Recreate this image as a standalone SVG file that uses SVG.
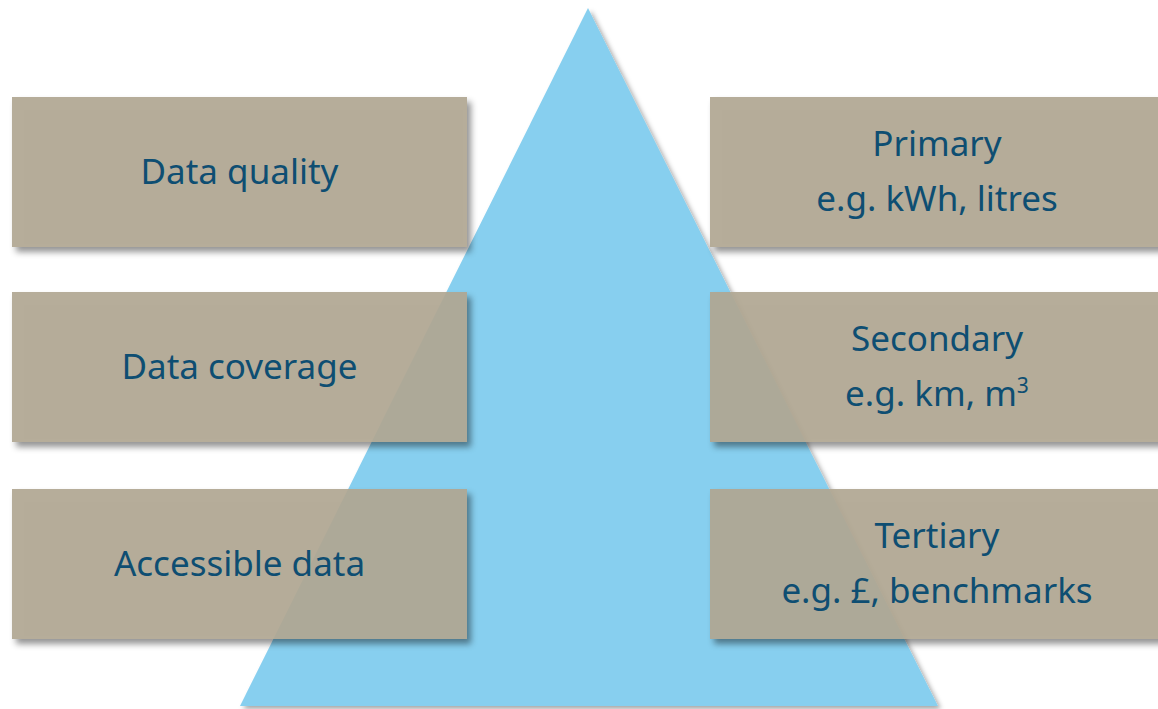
<svg xmlns="http://www.w3.org/2000/svg" width="1158" height="709" viewBox="0 0 1158 709">
  <defs>
    <!-- soft shadow cast only outside the shape, so translucent boxes stay clean -->
    <filter id="shadow" x="-10%" y="-10%" width="130%" height="130%">
      <feGaussianBlur in="SourceAlpha" stdDeviation="3"/>
      <feOffset dx="4" dy="5" result="blur"/>
      <feFlood flood-color="#000" flood-opacity="0.45"/>
      <feComposite in2="blur" operator="in"/>
      <feComposite in2="SourceAlpha" operator="out" result="cast"/>
      <feMerge>
        <feMergeNode in="cast"/>
        <feMergeNode in="SourceGraphic"/>
      </feMerge>
    </filter>
    <filter id="tri-shadow" x="-10%" y="-10%" width="130%" height="130%">
      <feDropShadow dx="3" dy="3" stdDeviation="2.5" flood-color="#000" flood-opacity="0.35"/>
    </filter>
  </defs>
  <style>
    .box { fill: #b0a792; fill-opacity: 0.93; }
    .label { font-family: "Noto Sans", "DejaVu Sans", sans-serif; font-size: 35px; fill: #0e4e72; text-anchor: middle; }
    .sup { font-size: 21px; }
  </style>
  <rect width="1158" height="709" fill="#ffffff"/>

  <!-- pyramid -->
  <g id="pyramid">
    <polygon points="588,8 938,706 240,706" fill="#87cfef" filter="url(#tri-shadow)"/>
  </g>

  <!-- left column -->
  <g id="data-quality">
    <rect class="box" x="12" y="97" width="455" height="150" filter="url(#shadow)"/>
    <text class="label" x="239.5" y="184">Data quality</text>
  </g>
  <g id="data-coverage">
    <rect class="box" x="12" y="292" width="455" height="150" filter="url(#shadow)"/>
    <text class="label" x="239.5" y="379">Data coverage</text>
  </g>
  <g id="accessible-data">
    <rect class="box" x="12" y="489" width="455" height="150" filter="url(#shadow)"/>
    <text class="label" x="239.5" y="576">Accessible data</text>
  </g>

  <!-- right column -->
  <g id="primary">
    <rect class="box" x="710" y="97" width="460" height="150" filter="url(#shadow)"/>
    <text class="label" x="937" y="156">Primary</text>
    <text class="label" x="937" y="211">e.g. kWh, litres</text>
  </g>
  <g id="secondary">
    <rect class="box" x="710" y="292" width="460" height="150" filter="url(#shadow)"/>
    <text class="label" x="937" y="351">Secondary</text>
    <text class="label" x="937" y="406">e.g. km, m<tspan class="sup" dy="-13">3</tspan></text>
  </g>
  <g id="tertiary">
    <rect class="box" x="710" y="489" width="460" height="150" filter="url(#shadow)"/>
    <text class="label" x="937" y="548">Tertiary</text>
    <text class="label" x="937" y="603">e.g. £, benchmarks</text>
  </g>

  <g id="connectors"/>
</svg>
